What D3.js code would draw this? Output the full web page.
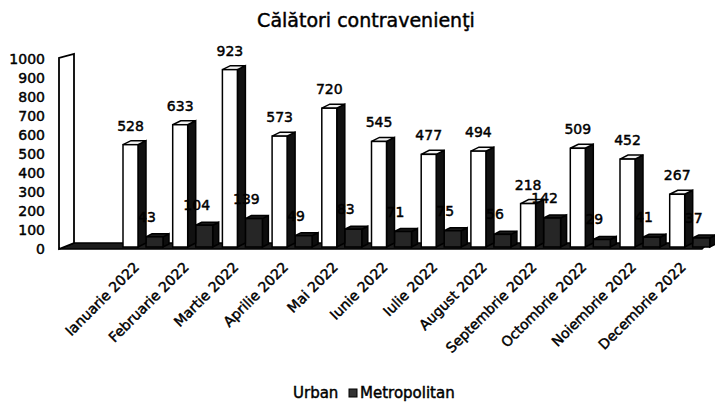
<!DOCTYPE html>
<html>
<head>
<meta charset="utf-8">
<script src="https://cdn.jsdelivr.net/npm/d3@7"></script>
<style>
    body { margin: 0; background: #fff; }
    text { font-family: 'DejaVu Sans', sans-serif; fill: #000; stroke: #000; stroke-width: 0.45px; }
</style>
</head>
<body>
<div id="chart"></div>
<script>
const months = ['Ianuarie 2022', 'Februarie 2022', 'Martie 2022', 'Aprilie 2022', 'Mai 2022', 'Iunie 2022',
    'Iulie 2022', 'August 2022', 'Septembrie 2022', 'Octombrie 2022', 'Noiembrie 2022', 'Decembrie 2022'];
const urban = [528, 633, 923, 573, 720, 545, 477, 494, 218, 509, 452, 267];
const metropolitan = [43, 104, 139, 49, 83, 71, 75, 56, 142, 29, 41, 37];
const yTicks = [0, 100, 200, 300, 400, 500, 600, 700, 800, 900, 1000];
const seriesNames = ['Urban', 'Metropolitan'];

const width = 715;
const height = 405;
const base = 247;      // front edge of the floor where bars stand
const lift = 4;        // bars sit a bit behind the axis plane

const svg = d3.select('#chart')
    .append('svg')
    .attr('width', width)
    .attr('height', height);

const x = d3.scaleBand()
    .domain(months)
    .range([123, 123 + 12 * 49.7]);

const y = d3.scaleLinear()
    .domain([0, 1000])
    .range([249, 59]);

// title
svg.append('text')
    .attr('x', 366)
    .attr('y', 27)
    .attr('text-anchor', 'middle')
    .style('font-size', '19px')
    .text('Călători contravenienţi');

// floor of the 3d plot
svg.append('polygon')
    .attr('points', [[59, y(0)], [702, y(0)], [708, y(0) - 6], [74, y(0) - 6]].join(' '))
    .attr('fill', '#1c1c1c')
    .attr('stroke', '#000')
    .attr('stroke-width', 1.5);

// side wall
svg.append('polygon')
    .attr('points', [[59, y(0)], [59, y(1000) - 1], [74, y(1000) - 5], [74, y(0) - 6]].join(' '))
    .attr('fill', '#fff')
    .attr('stroke', '#000')
    .attr('stroke-width', 1.8);

const yAxis = d3.axisLeft(y)
    .tickValues(yTicks)
    .tickFormat(d3.format('d'))
    .tickSize(0)
    .tickPadding(2);

svg.append('g')
    .attr('transform', 'translate(47, 0)')
    .call(yAxis)
    .call(g => g.select('.domain').remove())
    .selectAll('text')
    .style('font-size', '14px')
    .style('font-family', "'DejaVu Sans', sans-serif")
    .attr('fill', '#000');

// a 3d box: front face, side face, top face
function box(g, x0, w, top, dx, dy, front, side, topFill) {
    g.append('polygon')
        .attr('points', [[x0 + w, top], [x0 + w + dx, top - dy], [x0 + w + dx, base - dy], [x0 + w, base]].join(' '))
        .attr('fill', side)
        .attr('stroke', '#000')
        .attr('stroke-width', 1.5);
    g.append('polygon')
        .attr('points', [[x0, top], [x0 + w, top], [x0 + w + dx, top - dy], [x0 + dx, top - dy]].join(' '))
        .attr('fill', topFill)
        .attr('stroke', '#000')
        .attr('stroke-width', 1.5);
    g.append('rect')
        .attr('x', x0)
        .attr('y', top)
        .attr('width', w)
        .attr('height', base - top)
        .attr('fill', front)
        .attr('stroke', '#000')
        .attr('stroke-width', 1.5);
}

const groups = svg.selectAll('g.month')
    .data(months)
    .enter()
    .append('g')
    .attr('class', 'month');

groups.each(function(m, i) {
    const g = d3.select(this);
    const L = x(m);
    // metropolitan sits behind and to the right
    box(g, L + 23, 17, y(metropolitan[i]) - lift, 6, 3, '#262626', '#0d0d0d', '#1a1a1a');
    box(g, L, 15, y(urban[i]) - lift, 8, 4, '#fff', '#111', '#f2f2f2');
});

// value labels
groups.append('text')
    .attr('x', m => x(m) + 7.5)
    .attr('y', (m, i) => y(urban[i]) - 18)
    .attr('text-anchor', 'middle')
    .style('font-size', '14px')
    .text((m, i) => urban[i]);

groups.append('text')
    .attr('x', m => x(m) + 24)
    .attr('y', (m, i) => y(metropolitan[i]) - 19)
    .attr('text-anchor', 'middle')
    .style('font-size', '14px')
    .text((m, i) => metropolitan[i]);

// month labels
groups.append('text')
    .attr('transform', m => `translate(${x(m) + 17}, 268) rotate(-45)`)
    .attr('text-anchor', 'end')
    .style('font-size', '14px')
    .text(m => m);

// legend
const legend = svg.append('g');
legend.append('rect')
    .attr('x', 282).attr('y', 389).attr('width', 8).attr('height', 8)
    .attr('fill', '#fff');
legend.append('text')
    .attr('x', 293).attr('y', 398)
    .style('font-size', '15px')
    .text(seriesNames[0]);
legend.append('rect')
    .attr('x', 349).attr('y', 389).attr('width', 8).attr('height', 8)
    .attr('fill', '#333').attr('stroke', '#000');
legend.append('text')
    .attr('x', 360).attr('y', 398)
    .style('font-size', '15px')
    .text(seriesNames[1]);
</script>
</body>
</html>
